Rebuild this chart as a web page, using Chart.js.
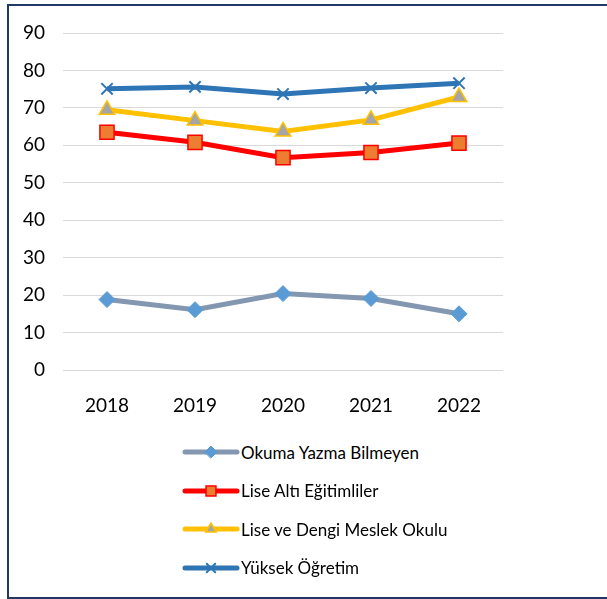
<!DOCTYPE html>
<html>
<head>
<meta charset="utf-8">
<script src="https://cdn.jsdelivr.net/npm/chart.js@4/dist/chart.umd.min.js"></script>
<style>
    body { margin: 0; background: #fff; font-family: Lato, "Open Sans", sans-serif; }
    .frame {
        position: absolute; left: 7px; top: 4px; width: 620px; height: 591px;
        border: 2px solid #1f3864;
    }
    #chartWrap { position: absolute; left: 0; top: 0; width: 607px; height: 420px; }
    .legend { position: absolute; left: 182px; top: 440px; }
    .legend-item { position: absolute; left: 0; height: 24px; display: flex; align-items: center; white-space: nowrap; font-size: 17px; color: #000; }
    .legend-item canvas { width: 58px; height: 24px; margin-right: 1px; }
</style>
</head>
<body>
<div class="frame"></div>
<div id="chartWrap"><canvas id="lineChart"></canvas></div>
<div class="legend" id="legend"></div>
<script>
    // Data
    const years = ['2018', '2019', '2020', '2021', '2022'];
    const seriesNames = ['Okuma Yazma Bilmeyen', 'Lise Altı Eğitimliler', 'Lise ve Dengi Meslek Okulu', 'Yüksek Öğretim'];
    const okumaYazma = [18.8, 16.1, 20.4, 19.1, 15.0];
    const liseAlti = [63.5, 60.8, 56.7, 58.1, 60.6];
    const liseDengi = [69.5, 66.6, 63.7, 66.8, 72.9];
    const yuksek = [75.1, 75.6, 73.7, 75.3, 76.6];
    const yTicks = [0, 10, 20, 30, 40, 50, 60, 70, 80, 90];

    const datasets = [
        { label: seriesNames[0], data: okumaYazma, borderColor: '#8497b0', backgroundColor: '#5b9bd5',
          pointStyle: 'rectRot', pointRadius: 8, pointBorderColor: '#5b9bd5', pointBorderWidth: 1 },
        { label: seriesNames[1], data: liseAlti, borderColor: '#ff0000', backgroundColor: '#ed7d31',
          pointStyle: 'rect', pointRadius: 10, pointBorderColor: '#ff0000', pointBorderWidth: 1.5 },
        { label: seriesNames[2], data: liseDengi, borderColor: '#ffc000', backgroundColor: '#a5a5a5',
          pointStyle: 'triangle', pointRadius: 9, pointBorderColor: '#ffc000', pointBorderWidth: 1.5 },
        { label: seriesNames[3], data: yuksek, borderColor: '#2e75b6', backgroundColor: '#2e75b6',
          pointStyle: 'crossRot', pointRadius: 8, pointBorderColor: '#2e75b6', pointBorderWidth: 2 }
    ].map(d => Object.assign({ borderWidth: 5, tension: 0, fill: false, pointHoverRadius: d.pointRadius }, d));

    const ctx = document.getElementById('lineChart').getContext('2d');
    const chart = new Chart(ctx, {
        type: 'line',
        data: { labels: years, datasets: datasets },
        options: {
            responsive: true,
            maintainAspectRatio: false,
            animation: false,
            layout: { padding: { top: 33, right: 104, left: 0, bottom: 0 } },
            plugins: { legend: { display: false }, tooltip: { enabled: false } },
            scales: {
                x: {
                    offset: true,
                    grid: { display: false },
                    border: { display: false },
                    ticks: { color: '#000', font: { family: 'Lato', size: 19 }, padding: 16 },
                    afterFit: s => { s.height = 50; }
                },
                y: {
                    min: 0, max: 90,
                    afterBuildTicks: s => { s.ticks = yTicks.map(v => ({ value: v })); },
                    grid: { color: '#d9d9d9', lineWidth: 1, drawTicks: false },
                    border: { display: false },
                    ticks: { color: '#000', font: { family: 'Lato', size: 19 }, padding: 18 },
                    afterFit: s => { s.width = 63; }
                }
            }
        }
    });

    // HTML legend, one entry per row
    function buildLegend() {
        const box = document.getElementById('legend');
        const smallRadius = [6, 7, 6, 6];
        chart.data.datasets.forEach((ds, i) => {
            const item = document.createElement('div');
            item.className = 'legend-item';
            item.style.top = (i * 38.5) + 'px';
            const c = document.createElement('canvas');
            c.width = 58; c.height = 24;
            const g = c.getContext('2d');
            g.strokeStyle = ds.borderColor;
            g.lineWidth = 5;
            g.lineCap = 'round';
            g.beginPath(); g.moveTo(3, 12); g.lineTo(55, 12); g.stroke();
            g.fillStyle = ds.backgroundColor;
            g.strokeStyle = ds.pointBorderColor;
            g.lineWidth = ds.pointBorderWidth;
            if (Chart.helpers && Chart.helpers.drawPoint) {
                Chart.helpers.drawPoint(g, { pointStyle: ds.pointStyle, radius: smallRadius[i], borderWidth: ds.pointBorderWidth, rotation: 0 }, 29, 12);
            }
            const span = document.createElement('span');
            span.textContent = ds.label;
            item.appendChild(c);
            item.appendChild(span);
            box.appendChild(item);
        });
    }
    buildLegend();
</script>
</body>
</html>
